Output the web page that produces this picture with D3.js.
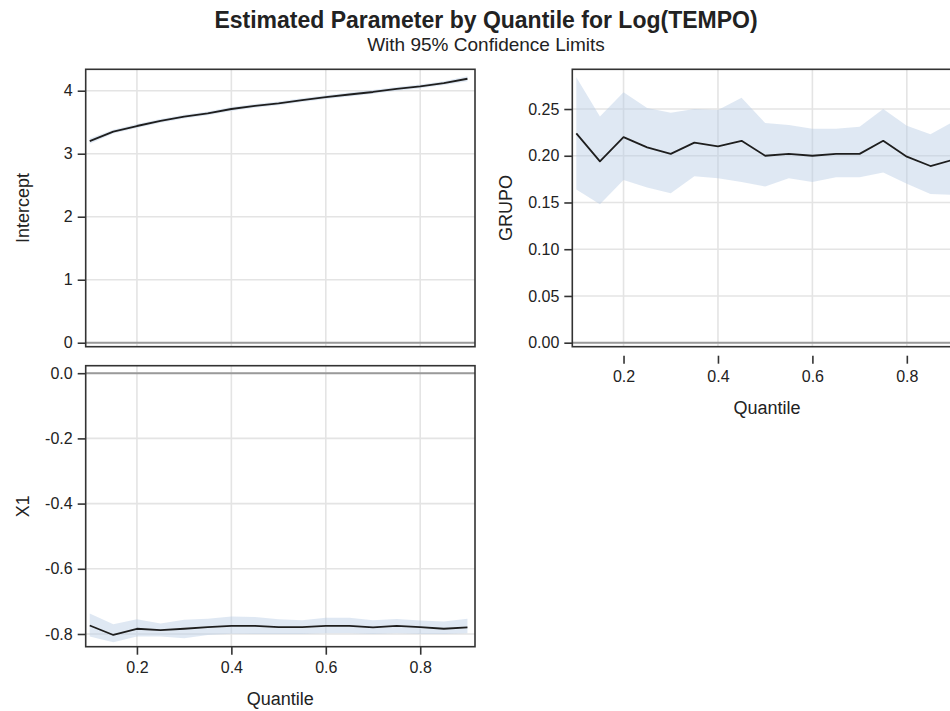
<!DOCTYPE html>
<html>
<head>
<meta charset="utf-8">
<script src="https://cdn.jsdelivr.net/npm/d3@7"></script>
<style>
  body { margin: 0; background: #fff; }
  svg { display: block; }
  text { font-family: "Liberation Sans", Arial, sans-serif; fill: #222; }
</style>
</head>
<body>
<svg id="chart" width="950" height="711"></svg>
<script>
// Quantile levels at which the regression was fitted
const quantiles = [0.10, 0.15, 0.20, 0.25, 0.30, 0.35, 0.40, 0.45, 0.50, 0.55, 0.60, 0.65, 0.70, 0.75, 0.80, 0.85, 0.90];

// Intercept estimates with 95% limits
const interceptEst   = [3.20, 3.35, 3.44, 3.52, 3.59, 3.64, 3.71, 3.76, 3.80, 3.85, 3.90, 3.94, 3.98, 4.03, 4.07, 4.12, 4.19];
const interceptLower = [3.16, 3.32, 3.41, 3.49, 3.56, 3.61, 3.68, 3.73, 3.77, 3.82, 3.87, 3.91, 3.95, 4.00, 4.04, 4.09, 4.15];
const interceptUpper = [3.24, 3.38, 3.47, 3.55, 3.62, 3.67, 3.74, 3.79, 3.83, 3.88, 3.93, 3.97, 4.01, 4.06, 4.10, 4.15, 4.23];

// GRUPO estimates with 95% limits
const grupoEst   = [0.224, 0.194, 0.220, 0.209, 0.202, 0.214, 0.210, 0.216, 0.200, 0.202, 0.200, 0.202, 0.202, 0.216, 0.199, 0.189, 0.196];
const grupoLower = [0.164, 0.148, 0.174, 0.166, 0.160, 0.178, 0.176, 0.172, 0.167, 0.176, 0.172, 0.177, 0.177, 0.182, 0.170, 0.159, 0.158];
const grupoUpper = [0.284, 0.242, 0.268, 0.251, 0.246, 0.250, 0.249, 0.262, 0.235, 0.233, 0.229, 0.229, 0.231, 0.250, 0.232, 0.223, 0.237];

// X1 estimates with 95% limits
const x1Est   = [-0.774, -0.803, -0.784, -0.788, -0.784, -0.779, -0.775, -0.775, -0.779, -0.779, -0.775, -0.775, -0.780, -0.775, -0.779, -0.784, -0.780];
const x1Lower = [-0.808, -0.825, -0.808, -0.808, -0.813, -0.803, -0.799, -0.800, -0.800, -0.800, -0.798, -0.798, -0.800, -0.798, -0.800, -0.800, -0.798];
const x1Upper = [-0.737, -0.770, -0.755, -0.768, -0.756, -0.753, -0.746, -0.748, -0.755, -0.758, -0.750, -0.750, -0.758, -0.754, -0.759, -0.762, -0.753];

// Tick values
const quantileTicks  = [0.2, 0.4, 0.6, 0.8];
const interceptTicks = [0, 1, 2, 3, 4];
const grupoTicks     = [0, 0.05, 0.10, 0.15, 0.20, 0.25];
const x1Ticks        = [-0.8, -0.6, -0.4, -0.2, 0];

const titleText    = "Estimated Parameter by Quantile for Log(TEMPO)";
const subtitleText = "With 95% Confidence Limits";
const xLabel       = "Quantile";

// number formatting with an ASCII hyphen for negatives
const locale = d3.formatLocale({ decimal: ".", thousands: ",", grouping: [3], currency: ["", ""], minus: "-" });

const svg = d3.select("#chart");

const panelW = 389.3;
const panelH = 277.4;

const panels = [
  { label: "Intercept", est: interceptEst, lo: interceptLower, hi: interceptUpper,
    ticks: interceptTicks, fmt: locale.format(".0f"), yDomain: [-0.063, 4.34],
    left: 85.7, top: 69.3, h: panelH, labelX: 23, showX: false, axisGap: 0 },
  { label: "GRUPO", est: grupoEst, lo: grupoLower, hi: grupoUpper,
    ticks: grupoTicks, fmt: locale.format(".2f"), yDomain: [-0.0043, 0.2925],
    left: 572.3, top: 69.3, h: panelH, labelX: 506, showX: true, axisGap: 9 },
  { label: "X1", est: x1Est, lo: x1Lower, hi: x1Upper,
    ticks: x1Ticks, fmt: locale.format(".1f"), yDomain: [-0.839, 0.023],
    left: 85.7, top: 365.7, h: 281, labelX: 23, showX: true, axisGap: 0 }
];

const xDomain = [0.0915, 0.916];

panels.forEach((p, i) => {
  const x = d3.scaleLinear().domain(xDomain).range([p.left, p.left + panelW]);
  const y = d3.scaleLinear().domain(p.yDomain).range([p.top + p.h, p.top]);

  const clipId = "clip" + i;
  svg.append("clipPath").attr("id", clipId)
    .append("rect").attr("x", p.left).attr("y", p.top).attr("width", panelW).attr("height", p.h);

  const g = svg.append("g").attr("clip-path", `url(#${clipId})`);

  // grid lines
  g.selectAll(".gy").data(p.ticks).join("line")
    .attr("x1", p.left).attr("x2", p.left + panelW)
    .attr("y1", d => y(d)).attr("y2", d => y(d))
    .attr("stroke", "#e4e4e4").attr("stroke-width", 1.6);
  g.selectAll(".gx").data(quantileTicks).join("line")
    .attr("x1", d => x(d)).attr("x2", d => x(d))
    .attr("y1", p.top).attr("y2", p.top + p.h)
    .attr("stroke", "#e4e4e4").attr("stroke-width", 1.6);

  const rows = quantiles.map((q, k) => ({ q, est: p.est[k], lo: p.lo[k], hi: p.hi[k] }));

  // confidence band
  g.append("path").datum(rows)
    .attr("d", d3.area().x(d => x(d.q)).y0(d => y(d.lo)).y1(d => y(d.hi)))
    .attr("fill", "#b9cde5").attr("fill-opacity", 0.45);

  // zero reference line
  g.append("line")
    .attr("x1", p.left).attr("x2", p.left + panelW)
    .attr("y1", y(0)).attr("y2", y(0))
    .attr("stroke", "#9a9a9a").attr("stroke-width", 2);

  // estimate line
  g.append("path").datum(rows)
    .attr("d", d3.line().x(d => x(d.q)).y(d => y(d.est)))
    .attr("fill", "none").attr("stroke", "#1e1e1e").attr("stroke-width", 1.8)
    .attr("stroke-linejoin", "round");

  // frame
  svg.append("rect")
    .attr("x", p.left).attr("y", p.top).attr("width", panelW).attr("height", p.h)
    .attr("fill", "none").attr("stroke", "#333").attr("stroke-width", 1.6);

  // y axis
  const ya = svg.append("g").attr("transform", `translate(${p.left},0)`)
    .call(d3.axisLeft(y).tickValues(p.ticks).tickFormat(p.fmt).tickSize(8).tickPadding(5));
  ya.select(".domain").remove();
  ya.selectAll(".tick line").attr("stroke", "#333").attr("stroke-width", 1.6);
  ya.selectAll(".tick text").style("font-size", "16px").attr("fill", "#222");

  svg.append("text")
    .attr("transform", `translate(${p.labelX},${p.top + p.h / 2}) rotate(-90)`)
    .attr("text-anchor", "middle").attr("dy", "0.35em")
    .style("font-size", "18px")
    .text(p.label);

  if (p.showX) {
    const axisY = p.top + p.h + p.axisGap;
    const xa = svg.append("g").attr("transform", `translate(0,${axisY})`)
      .call(d3.axisBottom(x).tickValues(quantileTicks).tickFormat(locale.format(".1f")).tickSize(8).tickPadding(7));
    xa.select(".domain").remove();
    xa.selectAll(".tick line").attr("stroke", "#333").attr("stroke-width", 1.6);
    xa.selectAll(".tick text").style("font-size", "16px").attr("fill", "#222");

    svg.append("text")
      .attr("x", p.left + panelW / 2).attr("y", axisY + 58)
      .attr("text-anchor", "middle")
      .style("font-size", "18px")
      .text(xLabel);
  }
});

// titles
svg.append("text")
  .attr("x", 486).attr("y", 28)
  .attr("text-anchor", "middle")
  .style("font-size", "23px").style("font-weight", "bold")
  .attr("fill", "#000")
  .text(titleText);

svg.append("text")
  .attr("x", 486).attr("y", 51)
  .attr("text-anchor", "middle")
  .style("font-size", "19px")
  .text(subtitleText);
</script>
</body>
</html>
